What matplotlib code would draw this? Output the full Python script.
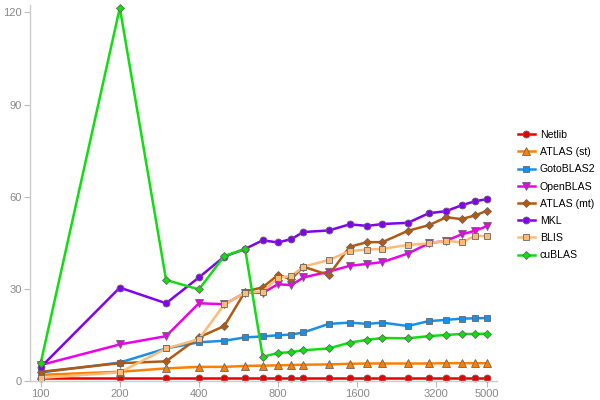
import matplotlib
matplotlib.use("Agg")
import matplotlib.pyplot as plt
from matplotlib.ticker import FixedLocator, NullLocator

plt.rcParams['font.family'] = ['Liberation Sans', 'DejaVu Sans']

sizes = [100, 200, 300, 400, 500, 600, 700, 800, 900, 1000, 1250, 1500, 1750,
         2000, 2500, 3000, 3500, 4000, 4500, 5000]

netlib = [1.0, 1.0, 1.0, 1.0, 1.0, 1.0, 1.0, 1.0, 1.0, 1.0, 1.0, 1.0, 1.0,
          1.0, 1.0, 1.0, 1.0, 1.0, 1.0, 1.0]
atlas_st = [2.0, 3.0, 4.1, 4.6, 4.6, 4.9, 5.0, 5.1, 5.2, 5.3, 5.4, 5.6, 5.7,
            5.7, 5.7, 5.7, 5.8, 5.8, 5.8, 5.8]
gotoblas2 = [2.8, 6.0, 10.6, 12.6, 13.1, 14.2, 14.5, 14.9, 15.1, 15.8, 18.6, 19.0,
             18.6, 19.0, 17.9, 19.5, 19.9, 20.3, 20.4, 20.5]
openblas = [5.2, 11.9, 14.6, 25.3, 25.0, 28.7, 28.7, 31.5, 31.2, 33.7, 35.6, 37.5,
            38.1, 38.7, 41.5, 44.8, 45.7, 47.7, 48.9, 50.4]
atlas_mt = [3.0, 5.8, 6.4, 14.2, 17.9, 29.1, 30.5, 34.5, 33.2, 37.2, 34.5, 43.7,
            45.2, 45.2, 48.9, 50.7, 53.3, 52.7, 53.9, 55.4]
mkl = [4.5, 30.4, 25.3, 33.7, 40.5, 43.0, 45.8, 45.1, 46.2, 48.5, 49.0, 51.0,
       50.5, 51.1, 51.5, 54.6, 55.3, 57.2, 58.5, 59.2]
blis = [1.0, 2.8, 10.6, 13.6, 25.0, 28.7, 29.1, 33.6, 34.2, 37.2, 39.4, 42.3,
        42.8, 43.0, 44.3, 44.8, 45.7, 45.1, 47.2, 47.2]
cublas = [5.9, 121.5, 32.9, 29.8, 40.7, 43.0, 7.9, 9.1, 9.4, 10.0, 10.6, 12.5,
          13.4, 14.0, 13.9, 14.6, 15.0, 15.3, 15.3, 15.4]

labels = ['Netlib', 'ATLAS (st)', 'GotoBLAS2', 'OpenBLAS', 'ATLAS (mt)', 'MKL',
          'BLIS', 'cuBLAS']
series = [netlib, atlas_st, gotoblas2, openblas, atlas_mt, mkl, blis, cublas]
colors = ['#e80000', '#ff8000', '#1a8fe8', '#ee00ee', '#b35a10', '#8000f0',
          '#ffbb77', '#11dd11']
markers = ['o', '^', 's', 'v', 'D', 'o', 's', 'D']
msizes = [5, 6, 5, 6, 4.5, 5, 5, 4.5]

x_ticks = [100, 200, 400, 800, 1600, 3200, 5000]
y_ticks = [0, 30, 60, 90, 120]

fig = plt.figure(figsize=(6, 4), dpi=100)
ax = fig.add_axes([0.05, 0.0475, 0.778, 0.94])

handles = []
for vals, lab, c, m, ms in zip(series, labels, colors, markers, msizes):
    h, = ax.plot(sizes, vals, color=c, lw=1.8, marker=m, markersize=ms,
                 markerfacecolor=c, markeredgecolor='#666666', markeredgewidth=0.6,
                 label=lab, clip_on=False)
    handles.append(h)

ax.set_xscale('log')
ax.set_xlim(91, 5450)
ax.set_ylim(0, 122.4)
ax.xaxis.set_major_locator(FixedLocator(x_ticks))
ax.xaxis.set_minor_locator(NullLocator())
ax.set_xticklabels([str(t) for t in x_ticks])
ax.set_yticks(y_ticks)
ax.set_yticklabels([str(t) for t in y_ticks])

for s in ['top', 'right']:
    ax.spines[s].set_visible(False)
for s in ['left', 'bottom']:
    ax.spines[s].set_color('#cccccc')
    ax.spines[s].set_linewidth(1.0)
ax.tick_params(axis='both', colors='#bbbbbb', labelcolor='#888888',
               labelsize=8, length=4, width=0.8, pad=2)

fig.legend(handles=handles, labels=labels, loc='upper left',
           bbox_to_anchor=(0.863, 0.675), frameon=False, fontsize=7.6,
           handlelength=1.6, handletextpad=0.5, labelspacing=0.68,
           borderaxespad=0, borderpad=0)

fig.savefig('out.png', dpi=100)
